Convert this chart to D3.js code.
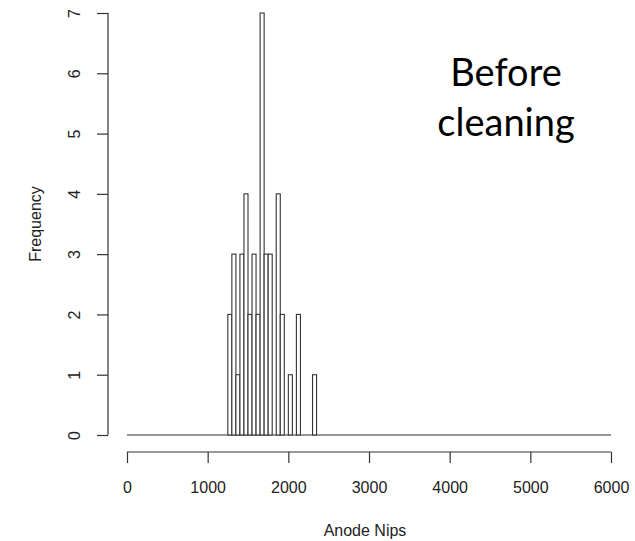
<!DOCTYPE html>
<html>
<head>
<meta charset="utf-8">
<script src="https://cdn.jsdelivr.net/npm/d3@7"></script>
<style>
  html, body { margin: 0; padding: 0; background: #fff; }
  svg { display: block; }
</style>
</head>
<body>
<script>
// Histogram of anode nip counts (bins of 50)
const binStarts = [1250, 1300, 1350, 1400, 1450, 1500, 1550, 1600, 1650, 1700, 1750,
                   1800, 1850, 1900, 1950, 2000, 2050, 2100, 2150, 2200, 2250, 2300];
const binCounts = [2, 3, 1, 3, 4, 2, 3, 2, 7, 3, 3,
                   0, 4, 2, 0, 1, 0, 2, 0, 0, 0, 1];
const binWidth = 50;
const xRange = [0, 6000];
const xTicks = [0, 1000, 2000, 3000, 4000, 5000, 6000];
const yTicks = [0, 1, 2, 3, 4, 5, 6, 7];
const xTitle = "Anode Nips";
const yTitle = "Frequency";
const noteLines = ["Before", "cleaning"];

const W = 635, H = 541;
const svg = d3.select("body").append("svg").attr("width", W).attr("height", H);

const x = d3.scaleLinear().domain(xRange).range([127, 611]);
const y = d3.scaleLinear().domain([0, 7]).range([435, 13]);

const ink = "#333";
const axisFont = "'Liberation Sans', Arial, sans-serif";
const axisSize = 16;

// zero-height bins along the full range
svg.append("line")
  .attr("x1", x(xRange[0])).attr("x2", x(xRange[1]))
  .attr("y1", y(0)).attr("y2", y(0))
  .attr("stroke", ink).attr("stroke-width", 1.2);

// bars
svg.append("g").selectAll("rect")
  .data(binStarts.map((s, i) => ({ s, c: binCounts[i] })))
  .join("rect")
  .attr("x", d => x(d.s))
  .attr("width", d => x(d.s + binWidth) - x(d.s))
  .attr("y", d => y(d.c))
  .attr("height", d => y(0) - y(d.c))
  .attr("fill", "#fff")
  .attr("stroke", ink)
  .attr("stroke-width", 1.1);

// x axis
const xAxis = svg.append("g")
  .attr("transform", "translate(0,452)")
  .call(d3.axisBottom(x).tickValues(xTicks).tickFormat(d3.format("d")).tickSize(11).tickPadding(19));
xAxis.select(".domain").attr("stroke", ink).attr("stroke-width", 1.2).attr("d", `M${x(0)},0H${x(6000)}`);
xAxis.selectAll(".tick line").attr("stroke", ink).attr("stroke-width", 1.2);
xAxis.selectAll("text").attr("font-family", axisFont).attr("font-size", axisSize).attr("fill", "#222");

// y axis
const yAxis = svg.append("g")
  .attr("transform", "translate(108,0)")
  .call(d3.axisLeft(y).tickValues(yTicks).tickFormat(d3.format("d")).tickSize(11).tickPadding(0));
yAxis.select(".domain").attr("stroke", ink).attr("stroke-width", 1.2).attr("d", `M0,${y(0)}V${y(7)}`);
yAxis.selectAll(".tick line").attr("stroke", ink).attr("stroke-width", 1.2);
yAxis.selectAll("text")
  .attr("font-family", axisFont).attr("font-size", axisSize).attr("fill", "#222")
  .attr("x", 0).attr("dy", null)
  .attr("text-anchor", "middle")
  .attr("transform", "translate(-34,0) rotate(-90)")
  .attr("dominant-baseline", "central");

// axis titles
svg.append("text")
  .attr("x", x(3000) - 4).attr("y", 536)
  .attr("text-anchor", "middle")
  .attr("font-family", axisFont).attr("font-size", axisSize).attr("fill", "#222")
  .text(xTitle);
svg.append("text")
  .attr("transform", `translate(41,${y(3.5)}) rotate(-90)`)
  .attr("text-anchor", "middle")
  .attr("font-family", axisFont).attr("font-size", axisSize).attr("fill", "#222")
  .text(yTitle);

// annotation
svg.append("g").selectAll("text")
  .data(noteLines)
  .join("text")
  .attr("x", 506)
  .attr("y", (d, i) => 86 + i * 50)
  .attr("text-anchor", "middle")
  .attr("font-family", "Lato, 'Open Sans', sans-serif")
  .attr("font-size", 38)
  .attr("fill", "#000")
  .text(d => d);
</script>
</body>
</html>
